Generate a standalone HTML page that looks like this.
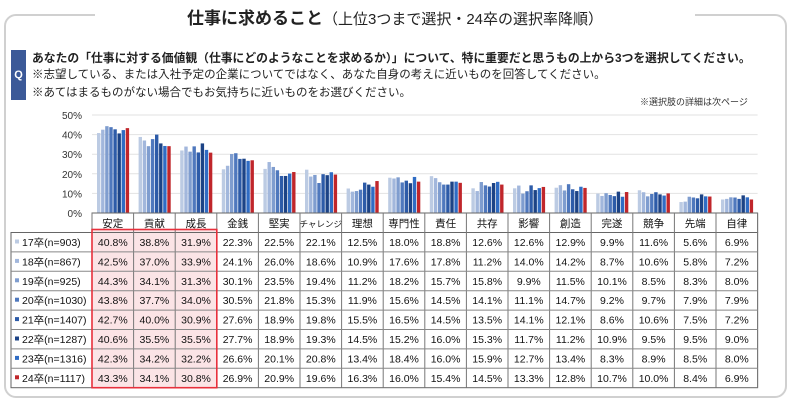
<!DOCTYPE html>
<html><head><meta charset="utf-8">
<style>
body{margin:0;width:790px;height:400px;background:#fff;font-family:"Liberation Sans","Noto Sans CJK JP",sans-serif;position:relative;overflow:hidden}
.frame{position:absolute;left:4px;top:14px;width:779px;height:380px;border:2px solid #d0d0d0;border-radius:12px}
.title{position:absolute;left:95px;top:4px;width:600px;text-align:center;background:#fff;font-size:17px;font-weight:bold;color:#222}
.title span{font-weight:normal;font-size:15px}
.q{position:absolute;left:11px;top:50px;width:15px;height:50px;background:#3b5998;color:#fff;font-weight:bold;font-size:11px;display:flex;align-items:center;justify-content:center}
.qt{position:absolute;left:32px;font-size:11.5px;color:#222;white-space:nowrap}
.note{position:absolute;left:640px;top:95px;font-size:9px;color:#333}
svg text{font-family:"Liberation Sans","Noto Sans CJK JP",sans-serif}
</style></head><body>
<div class="frame"></div>
<div class="title">仕事に求めること<span>（上位3つまで選択・24卒の選択率降順）</span></div>
<div class="q">Q</div>
<div class="qt" style="top:49px;font-weight:bold;font-size:11.8px">あなたの「仕事に対する価値観（仕事にどのようなことを求めるか）」について、特に重要だと思うもの上から3つを選択してください。</div>
<div class="qt" style="top:66px">※志望している、または入社予定の企業についてではなく、あなた自身の考えに近いものを回答してください。</div>
<div class="qt" style="top:84px">※あてはまるものがない場合でもお気持ちに近いものをお選びください。</div>
<div class="note">※選択肢の詳細は次ページ</div>
<svg id="c" width="790" height="400" style="position:absolute;left:0;top:0"></svg>
<script>
const categories=["安定","貢献","成長","金銭","堅実","チャレンジ","理想","専門性","責任","共存","影響","創造","完遂","競争","先端","自律"];
const seriesNames=["17卒(n=903)","18卒(n=867)","19卒(n=925)","20卒(n=1030)","21卒(n=1407)","22卒(n=1287)","23卒(n=1316)","24卒(n=1117)"];
const s17=[40.8,38.8,31.9,22.3,22.5,22.1,12.5,18.0,18.8,12.6,12.6,12.9,9.9,11.6,5.6,6.9];
const s18=[42.5,37.0,33.9,24.1,26.0,18.6,10.9,17.6,17.8,11.2,14.0,14.2,8.7,10.6,5.8,7.2];
const s19=[44.3,34.1,31.3,30.1,23.5,19.4,11.2,18.2,15.7,15.8,9.9,11.5,10.1,8.5,8.3,8.0];
const s20=[43.8,37.7,34.0,30.5,21.8,15.3,11.9,15.6,14.5,14.1,11.1,14.7,9.2,9.7,7.9,7.9];
const s21=[42.7,40.0,30.9,27.6,18.9,19.8,15.5,16.5,14.5,13.5,14.1,12.1,8.6,10.6,7.5,7.2];
const s22=[40.6,35.5,35.5,27.7,18.9,19.3,14.5,15.2,16.0,15.3,11.7,11.2,10.9,9.5,9.5,9.0];
const s23=[42.3,34.2,32.2,26.6,20.1,20.8,13.4,18.4,16.0,15.9,12.7,13.4,8.3,8.9,8.5,8.0];
const s24=[43.3,34.1,30.8,26.9,20.9,19.6,16.3,16.0,15.4,14.5,13.3,12.8,10.7,10.0,8.4,6.9];
const yTicks=[0,10,20,30,40,50];
const series=[s17,s18,s19,s20,s21,s22,s23,s24];
const colors=["#bccbe3","#a2b7dc","#7f9dcf","#4f78bd","#2d5ba8","#1c4386","#2f6cc4","#c0262b"];
const svg=document.getElementById('c');const NS="http://www.w3.org/2000/svg";
function el(t,a,p){const e=document.createElementNS(NS,t);for(const k in a)e.setAttribute(k,a[k]);(p||svg).appendChild(e);return e;}
const x0=92,cw=41.6,y0=213,yTop=115,tL=11;
const y=v=>y0-(v/50)*(y0-yTop);
const cx=i=>x0+i*cw;
yTicks.forEach(t=>{
 if(t>0){const g=el('line',{x1:x0,x2:cx(16),y1:y(t),y2:y(t),stroke:'#e2e2e2','stroke-width':1});
 
 }
 const tx=el('text',{x:82,y:y(t)+4,'text-anchor':'end','font-size':10,fill:'#333'});tx.textContent=t+'%';
 
 
});
series.forEach((s,j)=>{s.forEach((v,i)=>{
 const r=el('rect',{x:cx(i)+5+j*4.1,y:y(v),width:3.4,height:y0-y(v),fill:colors[j]});
 
 
});});
const rh=19.4,hTop=213,dTop=232.5;
el('rect',{x:x0,y:hTop,width:cw*16,height:dTop-hTop,fill:'#fff',stroke:'#666'});
el('rect',{x:x0,y:dTop-3,width:cw*3,height:rh*8+3,fill:'#fbe4e6'});
el('rect',{x:tL,y:dTop,width:cx(16)-tL,height:rh*8,fill:'none',stroke:'#666'});
for(let i=0;i<=16;i++){el('line',{x1:cx(i),x2:cx(i),y1:hTop,y2:dTop+rh*8,stroke:'#777','stroke-width':1});}
for(let r=1;r<8;r++){el('line',{x1:tL,x2:cx(16),y1:dTop+r*rh,y2:dTop+r*rh,stroke:'#888','stroke-width':1});}
categories.forEach((c,i)=>{const t=el('text',{x:cx(i)+cw/2,y:hTop+14,'text-anchor':'middle','font-size':c.length>4?8.5:10.5,fill:'#111'});t.textContent=c;
 
 });
seriesNames.forEach((n,j)=>{
 const yy=dTop+j*rh;
 el('rect',{x:15,y:yy+7,width:4,height:4,fill:colors[j]});
 const t=el('text',{x:22,y:yy+13.5,'font-size':10.5,fill:'#111'});t.textContent=n;
 
 
 series[j].forEach((v,i)=>{const c=el('text',{x:cx(i)+cw/2,y:yy+13.5,'text-anchor':'middle','font-size':10.5,fill:'#111'});c.textContent=v.toFixed(1)+'%';
 
 });
});
const hl=el('rect',{x:x0,y:dTop-3,width:cw*3,height:rh*8+3,fill:'none',stroke:'#e8303c','stroke-width':1.6});


</script>
</body></html>
